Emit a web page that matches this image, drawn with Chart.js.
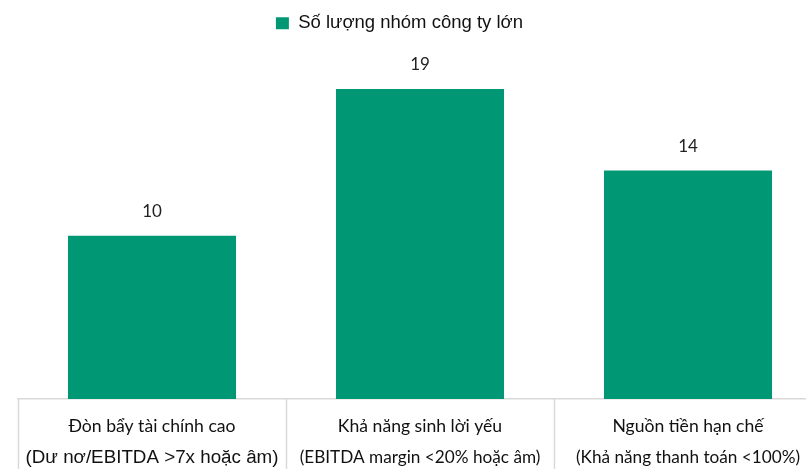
<!DOCTYPE html>
<html>
<head>
<meta charset="utf-8">
<script src="https://cdn.jsdelivr.net/npm/chart.js@4/dist/chart.umd.min.js"></script>
<style>
  html, body { margin: 0; padding: 0; background: #fff; overflow: hidden; }
  #wrap { position: absolute; left: 0; top: 0; width: 840px; height: 489px; }
</style>
</head>
<body>
<div id="wrap"><canvas id="chart"></canvas></div>
<script>
// data
const categories = [
  ['Đòn bẩy tài chính cao', '(Dư nơ/EBITDA >7x hoặc âm)'],
  ['Khả năng sinh lời yếu', '(EBITDA margin <20% hoặc âm)'],
  ['Nguồn tiền hạn chế', '(Khả năng thanh toán <100%)']
];
const seriesName = 'Số lượng nhóm công ty lớn';
const counts = [10, 19, 14];

const green = '#009874';
const gridGrey = '#d9d9d9';
// the second caption lines are not all set in the same face
const subFonts = ['18.8px "Liberation Sans"', '17.2px Lato', '17.2px Lato'];

const extras = {
  id: 'extras',
  afterDatasetsDraw(chart) {
    const ctx = chart.ctx;
    const meta = chart.getDatasetMeta(0);
    ctx.save();
    ctx.font = '17px Lato';
    ctx.fillStyle = '#222';
    ctx.textAlign = 'center';
    ctx.textBaseline = 'middle';
    meta.data.forEach((bar, i) => {
      ctx.fillText(String(counts[i]), bar.x, bar.y - 24);
    });
    ctx.restore();
  },
  afterDraw(chart) {
    const x = chart.scales.x;
    const ctx = chart.ctx;
    const bottom = chart.chartArea.bottom;
    const step = x.getPixelForValue(1) - x.getPixelForValue(0);
    ctx.save();
    ctx.strokeStyle = gridGrey;
    ctx.lineWidth = 1.5;
    for (let i = 0; i <= categories.length; i++) {
      const px = Math.round(x.getPixelForValue(i) - step / 2) + 0.5;
      ctx.beginPath();
      ctx.moveTo(px, bottom);
      ctx.lineTo(px, chart.height);
      ctx.stroke();
    }
    // second caption line
    ctx.fillStyle = '#111';
    ctx.textAlign = 'center';
    ctx.textBaseline = 'alphabetic';
    categories.forEach((c, i) => {
      ctx.font = subFonts[i];
      ctx.fillText(c[1], x.getPixelForValue(i), bottom + 64);
    });
    ctx.restore();
  }
};

new Chart(document.getElementById('chart'), {
  type: 'bar',
  data: {
    labels: categories,
    datasets: [{
      label: seriesName,
      data: counts,
      backgroundColor: green,
      categoryPercentage: 1,
      barPercentage: 0.627
    }]
  },
  options: {
    responsive: true,
    maintainAspectRatio: false,
    animation: false,
    layout: { padding: { left: 18, right: 18, top: 4, bottom: 35 } },
    plugins: {
      legend: {
        position: 'top',
        labels: {
          boxWidth: 13,
          boxHeight: 12,
          color: '#111',
          font: { family: 'Liberation Sans', size: 18.5 },
          padding: 10,
          generateLabels(chart) {
            const items = Chart.defaults.plugins.legend.labels.generateLabels(chart);
            items.forEach(it => { it.text = it.text + '        '; it.lineWidth = 0; });
            return items;
          }
        }
      },
      tooltip: { enabled: false }
    },
    scales: {
      x: {
        offset: true,
        grid: { display: false, drawTicks: false },
        border: { display: true, color: gridGrey, width: 1.5 },
        ticks: {
          color: '#111',
          padding: 17,
          maxRotation: 0,
          autoSkip: false,
          callback(value, i) { return categories[i][0]; },
          font: { family: 'Lato', size: 17.6, lineHeight: 1.2 }
        }
      },
      y: {
        display: false,
        min: 0,
        max: 21.85
      }
    }
  },
  plugins: [extras]
});
</script>
</body>
</html>
